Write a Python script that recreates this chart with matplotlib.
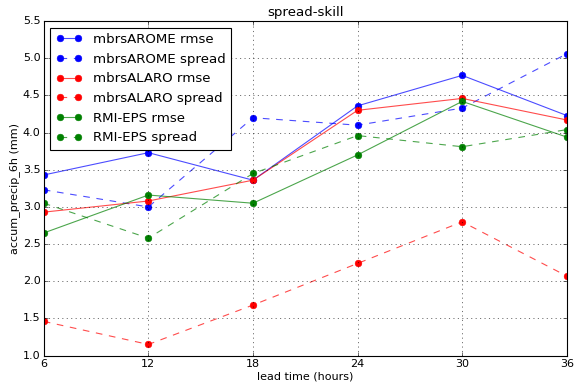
import matplotlib
matplotlib.use('Agg')
import matplotlib.pyplot as plt
from matplotlib.colors import to_rgba

plt.style.use('classic')

lead_time = [6, 12, 18, 24, 30, 36]

arome_rmse = [3.43, 3.73, 3.36, 4.36, 4.77, 4.23]
arome_spread = [3.23, 3.00, 4.20, 4.10, 4.33, 5.06]
alaro_rmse = [2.93, 3.08, 3.36, 4.30, 4.46, 4.17]
alaro_spread = [1.46, 1.15, 1.68, 2.24, 2.80, 2.07]
rmi_rmse = [2.65, 3.16, 3.05, 3.70, 4.42, 3.94]
rmi_spread = [3.05, 2.58, 3.45, 3.96, 3.81, 4.04]

series = [
    ("mbrsAROME rmse", arome_rmse, 'b', '-'),
    ("mbrsAROME spread", arome_spread, 'b', '--'),
    ("mbrsALARO rmse", alaro_rmse, 'r', '-'),
    ("mbrsALARO spread", alaro_spread, 'r', '--'),
    ("RMI-EPS rmse", rmi_rmse, 'g', '-'),
    ("RMI-EPS spread", rmi_spread, 'g', '--'),
]

fig = plt.figure(figsize=(7.2, 4.8), dpi=80, facecolor='white')
ax = fig.add_subplot(111)
fig.subplots_adjust(left=0.076, right=0.984, top=0.945, bottom=0.074)

for label, vals, col, ls in series:
    ax.plot(lead_time, vals, color=to_rgba(col, 0.7), linestyle=ls, linewidth=1.0,
            marker='o', markersize=6, markerfacecolor=col, markeredgecolor=col,
            markeredgewidth=0.5, label=label)

ax.set_title("spread-skill", fontsize=12)
ax.set_xlabel("lead time (hours)", fontsize=10, labelpad=2)
ax.set_ylabel("accum_precip_6h (mm)", fontsize=10, labelpad=2)
ax.set_xlim(6, 36)
ax.set_ylim(1.0, 5.5)
ax.set_xticks(lead_time)
ax.tick_params(labelsize=10, pad=3)
ax.grid(True, color='k', linestyle=':', linewidth=0.5)
ax.legend(loc='upper left', numpoints=2, fontsize=12, fancybox=False)

fig.savefig("out.png", dpi=80, facecolor='white')
